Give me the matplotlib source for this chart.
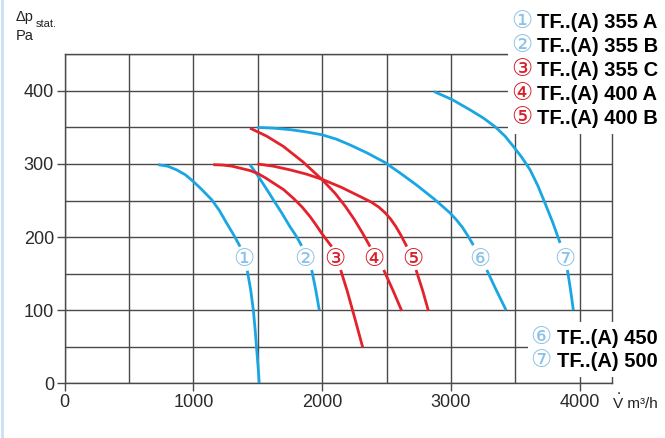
import matplotlib.pyplot as plt
import numpy as np
from matplotlib.patches import Rectangle

plt.rcParams['font.family'] = ['Liberation Sans', 'DejaVu Sans']

W, H = 665, 438
BLUE = '#19a6e2'
RED = '#e3222c'
BLUE_NUM = '#8cc2e6'
RED_NUM = '#d8202c'
GRID = '#4a4a4a'

nan = np.nan

# fan curves: air volume (m3/h) vs static pressure (Pa), nan = break at the number
c1_x = [728, 800, 870, 940, 1000, 1060, 1110, 1143, 1200, 1259, 1310, 1363, nan,
        1419, 1445, 1466, 1480, 1492, 1503, 1512]
c1_y = [299, 297, 292, 285, 276, 266, 257, 251, 237, 219, 204, 187, nan,
        154, 128, 100, 73, 46, 22, 0]
c2_x = [1440, 1497, 1560, 1621, 1690, 1751, 1800, 1841, nan, 1919, 1950, 1978]
c2_y = [299, 285, 268, 251, 232, 214, 201, 188, nan, 155, 128, 100]
c3_x = [1155, 1230, 1300, 1370, 1440, 1500, 1560, 1621, 1700, 1777, 1845, 1906,
        1955, 1997, 2035, 2074, nan, 2144, 2195, 2255, 2315]
c3_y = [299, 298.5, 297, 294, 291, 287, 281, 274, 265, 253, 241, 228,
        216, 205, 196, 187, nan, 155, 126, 88, 49]
c4_x = [1440, 1570, 1699, 1850, 1997, 2100, 2180, 2250, 2315, 2372, nan,
        2478, 2550, 2618]
c4_y = [349, 338, 324, 303, 279, 260, 242, 224, 205, 187, nan, 155, 127, 99]
c5_x = [1497, 1620, 1750, 1880, 2000, 2150, 2300, 2380, 2440, 2490, 2530, 2570,
        2610, 2657, nan, 2729, 2780, 2825]
c5_y = [300, 297, 292, 286, 279, 268, 255, 248, 241, 233, 225, 215,
        203, 187, nan, 155, 127, 99]
c6_x = [1497, 1620, 1750, 1870, 1997, 2110, 2217, 2350, 2488, 2610, 2734, 2870,
        2993, 3045, 3090, 3130, 3174, nan, 3278, 3350, 3428]
c6_y = [350, 349, 347, 344, 340, 334, 326, 315, 302, 287, 271, 252,
        233, 223, 213, 202, 189, nan, 155, 128, 100]
c7_x = [2869, 3010, 3148, 3250, 3342, 3420, 3484, 3550, 3614, 3675, 3731, 3790,
        3847, nan, 3904, 3928, 3950]
c7_y = [399, 388, 374, 363, 351, 338, 324, 309, 292, 270, 246, 220,
        192, nan, 155, 128, 100]

curves = [(c1_x, c1_y), (c2_x, c2_y), (c3_x, c3_y), (c4_x, c4_y),
          (c5_x, c5_y), (c6_x, c6_y), (c7_x, c7_y)]
colors = [BLUE, BLUE, RED, RED, RED, BLUE, BLUE]
num_colors = [BLUE_NUM, BLUE_NUM, RED_NUM, RED_NUM, RED_NUM, BLUE_NUM, BLUE_NUM]
numbers = ['①', '②', '③', '④', '⑤', '⑥', '⑦']
num_x = [1394, 1867, 2102, 2400, 2704, 3222, 3886]
num_y = 170
names = ['TF..(A) 355 A', 'TF..(A) 355 B', 'TF..(A) 355 C', 'TF..(A) 400 A',
         'TF..(A) 400 B', 'TF..(A) 450', 'TF..(A) 500']

x_ticks = [0, 1000, 2000, 3000, 4000]
y_ticks = [0, 100, 200, 300, 400]


def fx(px):
    return px / W


def fy(py):
    return 1 - py / H


fig = plt.figure(figsize=(W / 100, H / 100), dpi=100)
ax = fig.add_axes([fx(64.5), fy(383.3), (612 - 64.5) / W, 329 / H])

ax.set_xlim(0, 4250)
ax.set_ylim(0, 450)
ax.set_xticks(x_ticks)
ax.set_yticks(y_ticks)
ax.set_xticks(np.arange(0, 4251, 500), minor=True)
ax.set_yticks(np.arange(0, 451, 50), minor=True)
ax.grid(True, which='both', color=GRID, lw=1.0)
ax.tick_params(which='major', length=6, width=1.0, color=GRID, labelsize=13,
               labelcolor='#2a2a2a', pad=1.5)
ax.tick_params(which='minor', length=0)
for s in ax.spines.values():
    s.set_color(GRID)
    s.set_linewidth(1.0)

for (xs, ys), c in zip(curves, colors):
    ax.plot(xs, ys, color=c, lw=2.0, solid_capstyle='butt',
            solid_joinstyle='round', zorder=3)

for n, x, c in zip(numbers, num_x, num_colors):
    ax.text(x, num_y, n, color=c, fontsize=17, ha='center', va='center',
            family=['DejaVu Sans'], zorder=4)

# axis titles
fig.text(fx(16), fy(20.7), 'Δp', fontsize=10.5, color='#222222')
fig.text(fx(35.5), fy(27), 'stat.', fontsize=8, color='#222222')
fig.text(fx(16), fy(40), 'Pa', fontsize=10.5, color='#222222')
fig.text(fx(613), fy(407.5), 'V m³/h', fontsize=11, color='#222222')
fig.text(fx(618.3), fy(394), '.', fontsize=11, color='#222222', ha='center')

# page border on the left
fig.add_artist(plt.Line2D([fx(2), fx(2)], [0, 1], color='#c9e0f2', lw=2))

# legend boxes
fig.add_artist(Rectangle((fx(508), fy(134)), (W - 508) / W, 134 / H,
                         facecolor='white', edgecolor='none', zorder=5))
fig.add_artist(Rectangle((fx(528), fy(377)), (W - 528) / W, 55 / H,
                         facecolor='white', edgecolor='none', zorder=5))

top_mid = [21.5, 45.5, 69.5, 93.5, 117.5]
for i in range(5):
    fig.text(fx(521.5), fy(top_mid[i]), numbers[i], color=num_colors[i],
             fontsize=17, ha='center', va='center', family=['DejaVu Sans'],
             zorder=6)
    fig.text(fx(537), fy(top_mid[i] + 7), names[i], fontsize=14.5,
             fontweight='bold', ha='left', va='baseline', zorder=6)

bot_mid = [336.5, 360]
for j, i in enumerate([5, 6]):
    fig.text(fx(540.5), fy(bot_mid[j]), numbers[i], color=num_colors[i],
             fontsize=17, ha='center', va='center', family=['DejaVu Sans'],
             zorder=6)
    fig.text(fx(557), fy(bot_mid[j] + 7), names[i], fontsize=14.5,
             fontweight='bold', ha='left', va='baseline', zorder=6)

fig.savefig('out.png', dpi=100)
